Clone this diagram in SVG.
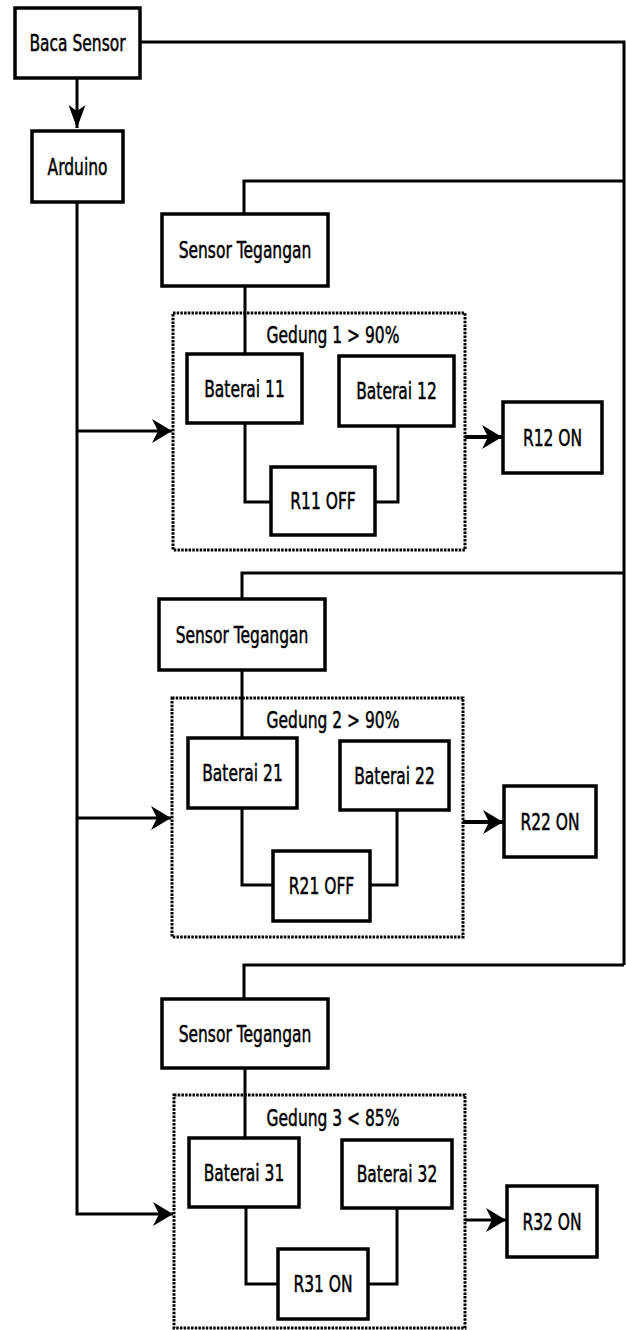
<svg xmlns="http://www.w3.org/2000/svg" width="626" height="1330" viewBox="0 0 626 1330">
<style>
.box{fill:#fff;stroke:#000;stroke-width:3.5}
.grp{fill:none;stroke:#000;stroke-width:3;stroke-dasharray:2.5 1.2}
.ln{fill:none;stroke:#000;stroke-width:3}
.lnT{fill:none;stroke:#000;stroke-width:4}
text{font-family:"DejaVu Sans","Verdana",sans-serif;font-size:15.5px;text-anchor:middle;fill:#000;stroke:#000;stroke-width:0.35}
</style>
<defs>
<marker id="arrH" markerUnits="userSpaceOnUse" viewBox="-21 -13 22 26" refX="0" refY="0" markerWidth="22" markerHeight="26" orient="auto" overflow="visible">
<path d="M0,0 L-20,-12 L-14,0 L-20,12 Z" fill="#000"/>
</marker>
<marker id="arrV" markerUnits="userSpaceOnUse" viewBox="-24 -10 25 20" refX="0" refY="0" markerWidth="25" markerHeight="20" orient="auto" overflow="visible">
<path d="M0,0 L-23,-8.5 L-17,0 L-23,8.5 Z" fill="#000"/>
</marker>
</defs>
<rect width="626" height="1330" fill="#fff"/>
<g id="connectors">
<path class="ln" d="M140,42 H624 V965"/>
<path class="ln" d="M77,78 V128" marker-end="url(#arrV)"/>
<path class="ln" d="M77,202 V1214 H173" marker-end="url(#arrH)"/>
<path class="ln" d="M77,431 H172" marker-end="url(#arrH)"/>
<path class="ln" d="M77,818 H171" marker-end="url(#arrH)"/>
<path class="ln" d="M624,181 H244 V214"/>
<path class="ln" d="M624,573 H242 V599"/>
<path class="ln" d="M624,965 H244 V999"/>
<path class="ln" d="M245,286 V354"/>
<path class="ln" d="M242,670 V738"/>
<path class="ln" d="M245,1068 V1138"/>
<path class="ln" d="M245,423 V502 H271"/>
<path class="ln" d="M398,426 V502 H375"/>
<path class="ln" d="M242,808 V885 H273"/>
<path class="ln" d="M397,810 V885 H370"/>
<path class="ln" d="M246,1207 V1284 H278"/>
<path class="ln" d="M397,1208 V1284 H368"/>
<path class="lnT" d="M465,437 H502" marker-end="url(#arrH)"/>
<path class="lnT" d="M463,822 H503" marker-end="url(#arrH)"/>
<path class="ln" d="M465,1220 H506" marker-end="url(#arrH)"/>
</g>
<g id="baca-sensor"><rect class="box" x="15" y="8" width="125" height="70"/><text transform="translate(77.5,43) scale(1,1.45)" y="5.6">Baca Sensor</text></g>
<g id="arduino"><rect class="box" x="32" y="131" width="91" height="71"/><text transform="translate(77.5,166.5) scale(1,1.45)" y="5.6">Arduino</text></g>

<g id="gedung1"><rect class="grp" x="173" y="313" width="292" height="237"/><text transform="translate(333,335) scale(1,1.45)" y="5.6">Gedung 1 &gt; 90%</text></g>
<g id="sensor1"><rect class="box" x="162" y="214" width="166" height="72"/><text transform="translate(245,250) scale(1,1.45)" y="5.6">Sensor Tegangan</text></g>
<g id="baterai11"><rect class="box" x="187" y="354" width="115" height="69"/><text transform="translate(244.5,388.5) scale(1,1.45)" y="5.6">Baterai 11</text></g>
<g id="baterai12"><rect class="box" x="339" y="356" width="115" height="70"/><text transform="translate(396.5,391) scale(1,1.45)" y="5.6">Baterai 12</text></g>
<g id="r11"><rect class="box" x="271" y="467" width="104" height="68"/><text transform="translate(323,501) scale(1,1.45)" y="5.6">R11 OFF</text></g>
<g id="r12"><rect class="box" x="503" y="402" width="99" height="71"/><text transform="translate(552.5,437.5) scale(1,1.45)" y="5.6">R12 ON</text></g>

<g id="gedung2"><rect class="grp" x="172" y="698" width="291" height="239"/><text transform="translate(333,720) scale(1,1.45)" y="5.6">Gedung 2 &gt; 90%</text></g>
<g id="sensor2"><rect class="box" x="159" y="599" width="166" height="71"/><text transform="translate(242,634.5) scale(1,1.45)" y="5.6">Sensor Tegangan</text></g>
<g id="baterai21"><rect class="box" x="188" y="738" width="109" height="70"/><text transform="translate(242.5,773) scale(1,1.45)" y="5.6">Baterai 21</text></g>
<g id="baterai22"><rect class="box" x="340" y="741" width="109" height="69"/><text transform="translate(394.5,775.5) scale(1,1.45)" y="5.6">Baterai 22</text></g>
<g id="r21"><rect class="box" x="273" y="851" width="97" height="70"/><text transform="translate(321.5,886) scale(1,1.45)" y="5.6">R21 OFF</text></g>
<g id="r22"><rect class="box" x="504" y="786" width="92" height="71"/><text transform="translate(550,821.5) scale(1,1.45)" y="5.6">R22 ON</text></g>

<g id="gedung3"><rect class="grp" x="174" y="1095" width="291" height="233"/><text transform="translate(333,1118) scale(1,1.45)" y="5.6">Gedung 3 &lt; 85%</text></g>
<g id="sensor3"><rect class="box" x="162" y="999" width="166" height="69"/><text transform="translate(245,1033.5) scale(1,1.45)" y="5.6">Sensor Tegangan</text></g>
<g id="baterai31"><rect class="box" x="189" y="1138" width="110" height="69"/><text transform="translate(244,1172.5) scale(1,1.45)" y="5.6">Baterai 31</text></g>
<g id="baterai32"><rect class="box" x="342" y="1140" width="110" height="68"/><text transform="translate(397,1174) scale(1,1.45)" y="5.6">Baterai 32</text></g>
<g id="r31"><rect class="box" x="278" y="1249" width="90" height="70"/><text transform="translate(323,1284) scale(1,1.45)" y="5.6">R31 ON</text></g>
<g id="r32"><rect class="box" x="507" y="1186" width="90" height="71"/><text transform="translate(552,1221.5) scale(1,1.45)" y="5.6">R32 ON</text></g>
</svg>
